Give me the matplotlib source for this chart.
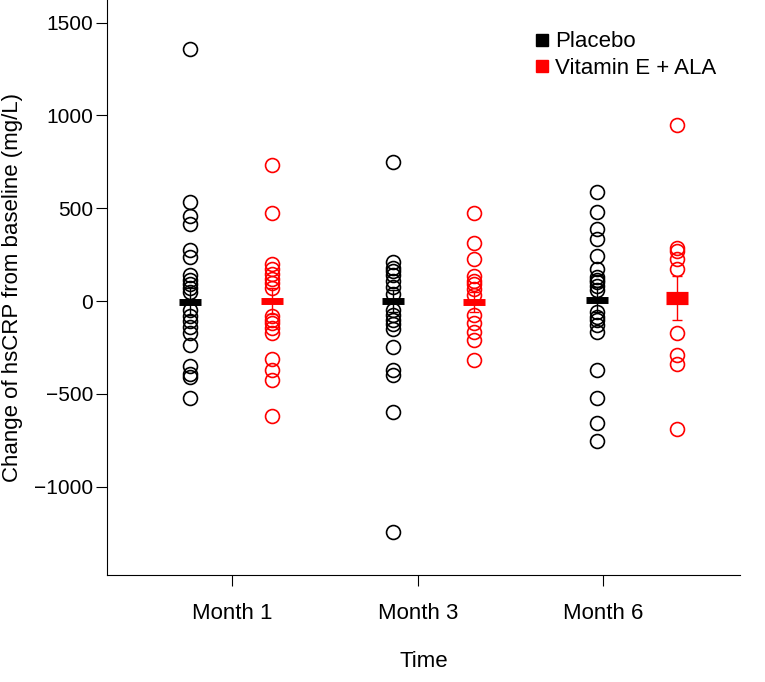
import matplotlib.pyplot as plt
import numpy as np

plt.rcParams['font.family'] = ['Liberation Sans', 'DejaVu Sans']

months = ["Month 1", "Month 3", "Month 6"]

placebo = [
    [1360, 535, 460, 415, 275, 235, 140, 115, 90, 70, 50, -50, -80, -110, -140, -170, -235, -350, -395, -410, -520],
    [750, 210, 180, 160, 140, 110, 75, 40, -50, -75, -100, -125, -150, -250, -370, -400, -600, -1245],
    [585, 480, 390, 335, 245, 170, 130, 115, 100, 80, 60, -60, -85, -105, -130, -165, -370, -525, -660, -755],
]
vitamin = [
    [735, 475, 200, 170, 145, 120, 95, 70, -80, -100, -120, -145, -170, -315, -370, -425, -620],
    [475, 315, 225, 135, 110, 90, 65, 30, -75, -120, -165, -210, -320],
    [950, 285, 270, 225, 170, -170, -290, -340, -690],
]
placebo_center = [-3, 0, 8]
vitamin_center = [0, -5, 15]
placebo_err = [75, 60, 65]
vitamin_err = [70, 55, 118]

# x layout (group spacing = 1)
placebo_x = [0.409, 1.409, 2.414]
vitamin_x = [0.813, 1.808, 2.808]
tick_x = [0.616, 1.532, 2.443]

fig = plt.figure(figsize=(7.65, 6.82), dpi=100)
ax = fig.add_axes([0.14, 0.157, 0.827, 0.843])

for vals, xs, cen, err, col, thick in [
    (placebo, placebo_x, placebo_center, placebo_err, "black", [5, 5, 5]),
    (vitamin, vitamin_x, vitamin_center, vitamin_err, "red", [5, 5, 9.5]),
]:
    for i in range(3):
        ax.plot([xs[i]] * len(vals[i]), vals[i], "o", mfc="none", mec=col,
                ms=10, mew=1.2, zorder=3)
        ax.errorbar(xs[i], cen[i], yerr=err[i], fmt="none", ecolor=col,
                    elinewidth=1.0, capsize=3.5, capthick=1.0, zorder=2)
        ax.hlines(cen[i], xs[i] - 0.055, xs[i] + 0.055, colors=col,
                  lw=thick[i], zorder=4)

ax.set_xlim(0, 3.118)
ax.set_ylim(-1476, 1622)
ax.set_xticks(tick_x)
ax.set_xticklabels(months, fontsize=16)
ax.set_yticks([-1000, -500, 0, 500, 1000, 1500])
ax.set_yticklabels(["\u22121000", "\u2212500", "0", "500", "1000", "1500"], fontsize=15)
ax.tick_params(axis="x", length=8, pad=12)
ax.tick_params(axis="y", length=8, pad=2)
ax.spines["top"].set_visible(False)
ax.spines["right"].set_visible(False)
ax.set_xlabel("Time", fontsize=16, labelpad=20)
ax.set_ylabel("Change of hsCRP from baseline (mg/L)", fontsize=16, labelpad=8)

ax.plot([], [], "s", color="black", ms=8, label="Placebo")
ax.plot([], [], "s", color="red", ms=8, label="Vitamin E + ALA")
ax.legend(loc="upper right", bbox_to_anchor=(0.995, 0.98), frameon=False,
          fontsize=16, handletextpad=0.2, handlelength=0.8, labelspacing=0.25)

fig.savefig("out.png", dpi=100)
